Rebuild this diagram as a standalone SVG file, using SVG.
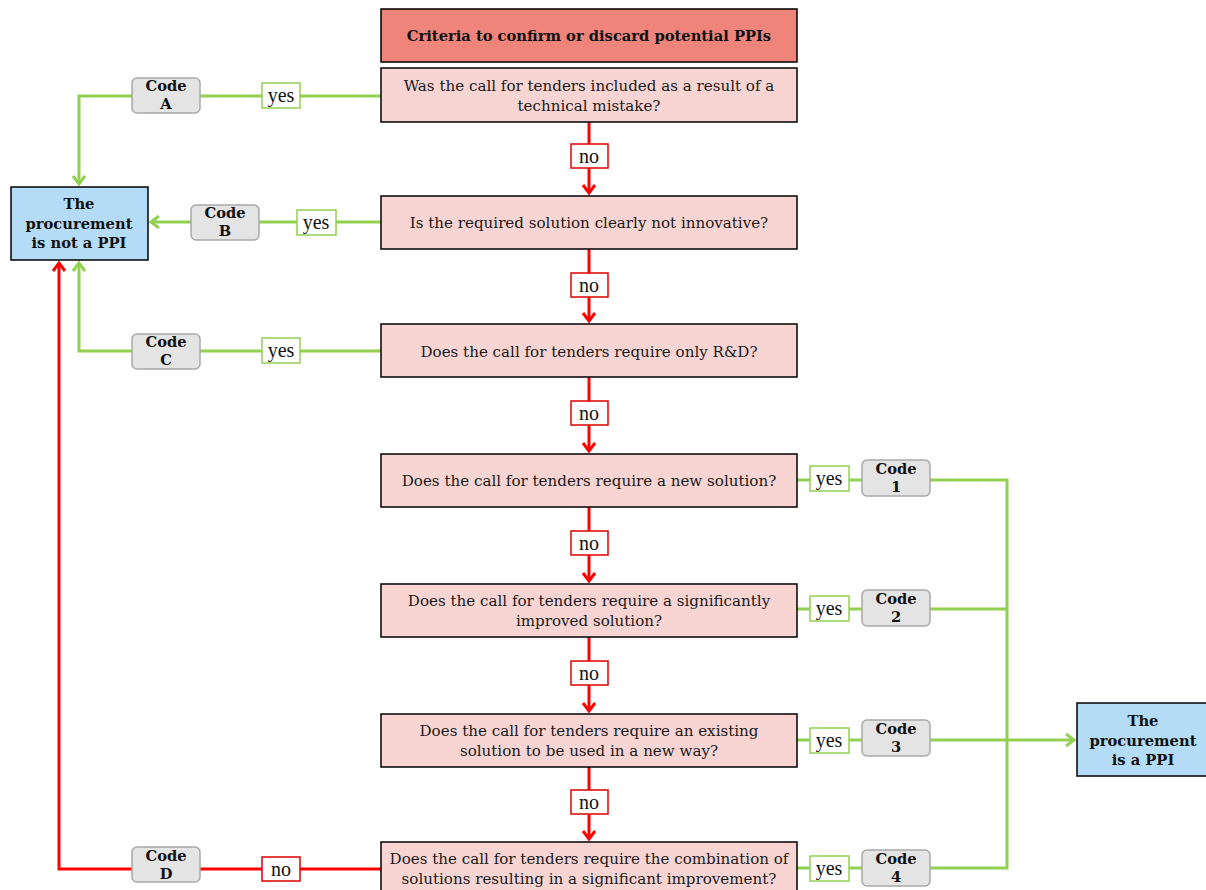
<svg xmlns="http://www.w3.org/2000/svg" width="1206" height="890" viewBox="0 0 1206 890">
  <defs>
    <style>
      .q { fill: #F8D5D2; stroke: #000; stroke-width: 1.5; }
      .title { fill: #EF847A; stroke: #000; stroke-width: 1.5; }
      .end { fill: #B4DCF6; stroke: #000; stroke-width: 1.5; }
      .code { fill: #E4E4E4; stroke: #A8A8A8; stroke-width: 1.5; }
      .yesbox { fill: #fff; stroke: #92D050; stroke-width: 1.5; }
      .nobox { fill: #fff; stroke: #E00000; stroke-width: 1.5; }
      .t { font-family: "DejaVu Serif", "Liberation Serif", serif; font-size: 15.1px; fill: #1a1a1a; text-anchor: middle; }
      .b { font-family: "DejaVu Serif", "Liberation Serif", serif; font-weight: bold; font-size: 14.7px; fill: #111; text-anchor: middle; }
      .lbl { font-family: "Liberation Serif", "DejaVu Serif", serif; font-size: 20px; fill: #111; text-anchor: middle; }
      .g { fill: none; stroke: #92D050; stroke-width: 3; }
      .r { fill: none; stroke: #FF0000; stroke-width: 3; }
    </style>
    <marker id="arrG" markerUnits="userSpaceOnUse" markerWidth="16" markerHeight="16" refX="10" refY="7" orient="auto">
      <path d="M2,1 L10,7 L2,13" fill="none" stroke="#92D050" stroke-width="3"/>
    </marker>
    <marker id="arrR" markerUnits="userSpaceOnUse" markerWidth="16" markerHeight="16" refX="10" refY="7" orient="auto">
      <path d="M2,1 L10,7 L2,13" fill="none" stroke="#FF0000" stroke-width="3"/>
    </marker>
  </defs>

  <!-- connectors -->
  <g id="connectors">
    <!-- "no" flow down the question column -->
    <line class="r" x1="589" y1="122" x2="589" y2="193" marker-end="url(#arrR)"/>
    <line class="r" x1="589" y1="249" x2="589" y2="321" marker-end="url(#arrR)"/>
    <line class="r" x1="589" y1="377" x2="589" y2="451" marker-end="url(#arrR)"/>
    <line class="r" x1="589" y1="507" x2="589" y2="581" marker-end="url(#arrR)"/>
    <line class="r" x1="589" y1="637" x2="589" y2="711" marker-end="url(#arrR)"/>
    <line class="r" x1="589" y1="767" x2="589" y2="839" marker-end="url(#arrR)"/>
    <!-- last question "no" back to not-a-PPI -->
    <polyline class="r" points="381,869 59,869 59,263" marker-end="url(#arrR)"/>
    <!-- "yes" exits to not-a-PPI -->
    <polyline class="g" points="381,96 79,96 79,184" marker-end="url(#arrG)"/>
    <line class="g" x1="381" y1="222" x2="151" y2="222" marker-end="url(#arrG)"/>
    <polyline class="g" points="381,351 79,351 79,263" marker-end="url(#arrG)"/>
    <!-- "yes" exits to is-a-PPI -->
    <polyline class="g" points="797,480 1007,480 1007,868 797,868"/>
    <line class="g" x1="797" y1="609" x2="1007" y2="609"/>
    <line class="g" x1="797" y1="740" x2="1074" y2="740" marker-end="url(#arrG)"/>

    <!-- yes / no labels -->
    <g id="lbl-no1"><rect class="nobox" x="571" y="144" width="37" height="24"/><text class="lbl" x="589" y="163">no</text></g>
    <g id="lbl-no2"><rect class="nobox" x="571" y="273" width="37" height="24"/><text class="lbl" x="589" y="292">no</text></g>
    <g id="lbl-no3"><rect class="nobox" x="571" y="401" width="37" height="24"/><text class="lbl" x="589" y="420">no</text></g>
    <g id="lbl-no4"><rect class="nobox" x="571" y="531" width="37" height="24"/><text class="lbl" x="589" y="550">no</text></g>
    <g id="lbl-no5"><rect class="nobox" x="571" y="661" width="37" height="24"/><text class="lbl" x="589" y="680">no</text></g>
    <g id="lbl-no6"><rect class="nobox" x="571" y="790" width="37" height="24"/><text class="lbl" x="589" y="809">no</text></g>
    <g id="lbl-no7"><rect class="nobox" x="262" y="857" width="38" height="24"/><text class="lbl" x="281" y="876">no</text></g>
    <g id="lbl-yesA"><rect class="yesbox" x="262" y="83" width="38" height="25"/><text class="lbl" x="281" y="102">yes</text></g>
    <g id="lbl-yesB"><rect class="yesbox" x="297" y="210" width="39" height="25"/><text class="lbl" x="316" y="229">yes</text></g>
    <g id="lbl-yesC"><rect class="yesbox" x="262" y="338" width="38" height="25"/><text class="lbl" x="281" y="357">yes</text></g>
    <g id="lbl-yes1"><rect class="yesbox" x="810" y="466" width="39" height="25"/><text class="lbl" x="829" y="485">yes</text></g>
    <g id="lbl-yes2"><rect class="yesbox" x="810" y="596" width="39" height="25"/><text class="lbl" x="829" y="615">yes</text></g>
    <g id="lbl-yes3"><rect class="yesbox" x="810" y="728" width="39" height="25"/><text class="lbl" x="829" y="747">yes</text></g>
    <g id="lbl-yes4"><rect class="yesbox" x="810" y="856" width="39" height="25"/><text class="lbl" x="829" y="875">yes</text></g>
  </g>

  <!-- header -->
  <g id="title">
    <rect class="title" x="381" y="9" width="416" height="53"/>
    <text class="b" x="589" y="41">Criteria to confirm or discard potential PPIs</text>
  </g>

  <!-- questions -->
  <g id="q1">
    <rect class="q" x="381" y="68" width="416" height="54"/>
    <text class="t" x="589" y="91">Was the call for tenders included as a result of a</text>
    <text class="t" x="589" y="111">technical mistake?</text>
  </g>
  <g id="q2">
    <rect class="q" x="381" y="196" width="416" height="53"/>
    <text class="t" x="589" y="228">Is the required solution clearly not innovative?</text>
  </g>
  <g id="q3">
    <rect class="q" x="381" y="324" width="416" height="53"/>
    <text class="t" x="589" y="357">Does the call for tenders require only R&amp;D?</text>
  </g>
  <g id="q4">
    <rect class="q" x="381" y="454" width="416" height="53"/>
    <text class="t" x="589" y="486">Does the call for tenders require a new solution?</text>
  </g>
  <g id="q5">
    <rect class="q" x="381" y="584" width="416" height="53"/>
    <text class="t" x="589" y="606">Does the call for tenders require a significantly</text>
    <text class="t" x="589" y="626">improved solution?</text>
  </g>
  <g id="q6">
    <rect class="q" x="381" y="714" width="416" height="53"/>
    <text class="t" x="589" y="736">Does the call for tenders require an existing</text>
    <text class="t" x="589" y="756">solution to be used in a new way?</text>
  </g>
  <g id="q7">
    <rect class="q" x="381" y="842" width="416" height="56"/>
    <text class="t" x="589" y="864">Does the call for tenders require the combination of</text>
    <text class="t" x="589" y="884">solutions resulting in a significant improvement?</text>
  </g>

  <!-- outcomes -->
  <g id="not-ppi">
    <rect class="end" x="11" y="187" width="137" height="73"/>
    <text class="b" x="79" y="209">The</text>
    <text class="b" x="79" y="229">procurement</text>
    <text class="b" x="79" y="248">is not a PPI</text>
  </g>
  <g id="is-ppi">
    <rect class="end" x="1077" y="703" width="136" height="73"/>
    <text class="b" x="1143" y="726">The</text>
    <text class="b" x="1143" y="746">procurement</text>
    <text class="b" x="1143" y="765">is a PPI</text>
  </g>

  <!-- codes -->
  <g id="code-a"><rect class="code" x="132" y="78" width="68" height="35" rx="5"/><text class="b" x="166" y="91">Code</text><text class="b" x="166" y="109">A</text></g>
  <g id="code-b"><rect class="code" x="191" y="205" width="68" height="35" rx="5"/><text class="b" x="225" y="218">Code</text><text class="b" x="225" y="236">B</text></g>
  <g id="code-c"><rect class="code" x="132" y="334" width="68" height="35" rx="5"/><text class="b" x="166" y="347">Code</text><text class="b" x="166" y="365">C</text></g>
  <g id="code-d"><rect class="code" x="132" y="847" width="68" height="35" rx="5"/><text class="b" x="166" y="861">Code</text><text class="b" x="166" y="879">D</text></g>
  <g id="code-1"><rect class="code" x="862" y="460" width="68" height="36" rx="5"/><text class="b" x="896" y="474">Code</text><text class="b" x="896" y="492">1</text></g>
  <g id="code-2"><rect class="code" x="862" y="590" width="68" height="36" rx="5"/><text class="b" x="896" y="604">Code</text><text class="b" x="896" y="622">2</text></g>
  <g id="code-3"><rect class="code" x="862" y="720" width="68" height="36" rx="5"/><text class="b" x="896" y="734">Code</text><text class="b" x="896" y="752">3</text></g>
  <g id="code-4"><rect class="code" x="862" y="850" width="68" height="36" rx="5"/><text class="b" x="896" y="864">Code</text><text class="b" x="896" y="882">4</text></g>
</svg>
